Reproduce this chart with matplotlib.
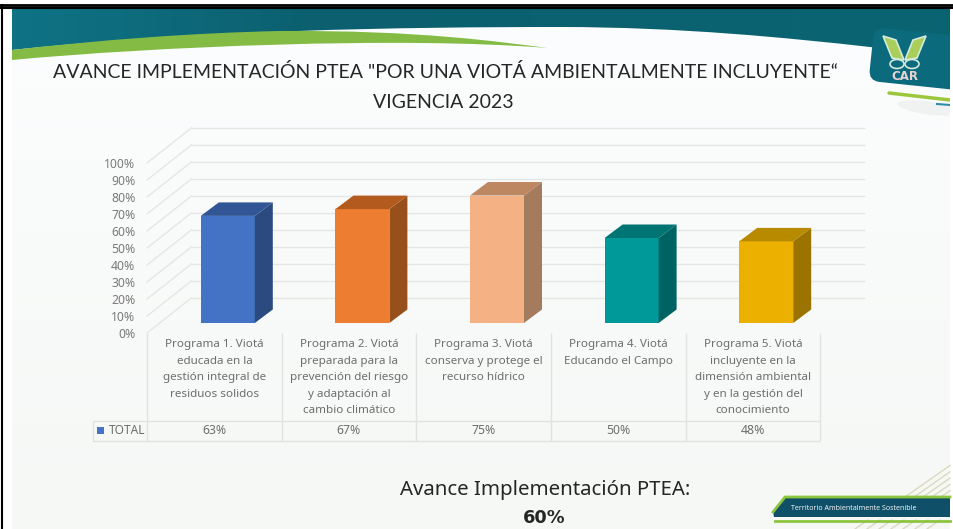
import numpy as np
import matplotlib
matplotlib.use("Agg")
import matplotlib.pyplot as plt
from matplotlib.patches import Polygon, Rectangle, FancyBboxPatch, Ellipse, PathPatch
from matplotlib.path import Path
from matplotlib.transforms import offset_copy, Affine2D

# data
programas = ["Programa 1. Viotá\neducada en la\ngestión integral de\nresiduos solidos",
             "Programa 2. Viotá\npreparada para la\nprevención del riesgo\ny adaptación al\ncambio climático",
             "Programa 3. Viotá\nconserva y protege el\nrecurso hídrico",
             "Programa 4. Viotá\nEducando el Campo",
             "Programa 5. Viotá\nincluyente en la\ndimensión ambiental\ny en la gestión del\nconocimiento"]
valores = [63, 67, 75, 50, 48]
ticks = [0, 10, 20, 30, 40, 50, 60, 70, 80, 90, 100]
col_front = ["#4472C4", "#ED7D31", "#F4B183", "#009999", "#ECB100"]
col_side = ["#2A4A80", "#97501C", "#A57B5E", "#006363", "#9A7300"]
col_top = ["#315595", "#B35B1E", "#BD8762", "#007373", "#B88A00"]

W, H = 954, 529
fig = plt.figure(figsize=(W / 100, H / 100), dpi=100, facecolor="white")

# 1. slide background, pixel coords
bg = fig.add_axes([0, 0, 1, 1])
bg.axis("off")
bg.imshow(np.linspace(0, 1, 100)[:, None], extent=(12, 950, 529, 9), aspect="auto",
          cmap=matplotlib.colors.LinearSegmentedColormap.from_list("s", ["#FCFDFE", "#F5F8F5"]), zorder=1)
bg.set_xlim(0, W)
bg.set_ylim(H, 0)

# black frame
bg.plot([0, W], [5, 5], color="black", lw=2, zorder=9)
bg.plot([0, W], [8, 8], color="black", lw=1.5, zorder=9)
bg.plot([2.5, 2.5], [5, H], color="black", lw=1.5, zorder=9)

# header band
C4 = Path.CURVE4
band_path = Path([(12, 50), (200, 30), (400, 27), (560, 27), (680, 27), (790, 38), (870, 47),
                  (900, 50), (930, 52), (950, 53), (950, 9), (12, 9), (12, 50)],
                 [Path.MOVETO, C4, C4, C4, C4, C4, C4, C4, C4, C4, Path.LINETO, Path.LINETO, Path.CLOSEPOLY])
band = PathPatch(band_path, fc="none", ec="none", transform=bg.transData, zorder=2)
bg.add_patch(band)
grad = np.linspace(0, 1, 200)[None, :]
cm_band = matplotlib.colors.LinearSegmentedColormap.from_list("b", ["#0F7385", "#0B5F6E", "#0B6270", "#0A6470"])
im = bg.imshow(grad, extent=(12, 950, 60, 9), aspect="auto", cmap=cm_band, zorder=2)
im.set_clip_path(band)
bg.set_xlim(0, W)
bg.set_ylim(H, 0)

# green swoosh
green_path = Path([(12, 50), (100, 40), (190, 33), (280, 31), (420, 30), (500, 42), (548, 48),
                   (400, 36), (150, 47), (12, 60), (12, 50)],
                  [Path.MOVETO, C4, C4, C4, C4, C4, C4, C4, C4, C4, Path.CLOSEPOLY])
bg.add_patch(PathPatch(green_path, fc="#84BB45", ec="none", zorder=3))

# logo
bg.add_patch(Ellipse((928, 108), 62, 13, angle=8, fc="#F0F1F1", ec="none", zorder=2))
logo_tr = Affine2D().rotate_deg_around(910, 60, 6) + bg.transData
bg.add_patch(FancyBboxPatch((871, 31), 110, 54, boxstyle="round,pad=0,rounding_size=11", fc="#0B6A7C",
                            ec="none", zorder=4, transform=logo_tr))
bg.add_patch(Rectangle((950, 9), 4, 120, fc="white", ec="none", zorder=5))
bg.add_patch(Polygon([(883, 36), (896, 40), (904, 60), (892, 58)], fc="#A9CF5A", ec="#D5E9DD", lw=1.2, zorder=6))
bg.add_patch(Polygon([(926, 36), (913, 40), (905, 60), (917, 58)], fc="#A9CF5A", ec="#D5E9DD", lw=1.2, zorder=6))
bg.add_patch(Ellipse((897, 64), 14, 9, fc="#0B6A7C", ec="#D5E9DD", lw=1.2, zorder=6))
bg.add_patch(Ellipse((912, 64), 14, 9, fc="#0B6A7C", ec="#D5E9DD", lw=1.2, zorder=6))
bg.text(904.5, 76, "CAR", color="#E9D3D5", fontsize=8.5, fontweight="bold", ha="center", va="center",
        family="DejaVu Sans", zorder=7)
bg.plot([889, 950], [93, 100], color="#9CC63C", lw=2.5, solid_capstyle="round", zorder=4)
bg.plot([937, 950], [104, 105], color="#2C8FA5", lw=1.5, zorder=4)

# bottom right badge and stripes
for i in range(6):
    x_ini = 905 + i * 9
    bg.plot([x_ini, 950], [497, 497 - (950 - x_ini) * 0.7], color="#DDD9C0", lw=1, zorder=2)
for i in range(7):
    bg.plot([855 + i * 12, 868 + i * 12], [529, 520], color="#DDD9C0", lw=1, zorder=2)
bg.add_patch(Polygon([(773, 512), (785, 497), (950, 497), (950, 517), (774, 517)], fc="#0F4F68", ec="none", zorder=3))
bg.plot([773, 785, 950], [512, 497, 497], color="#8CC63F", lw=2, zorder=4)
bg.plot([775, 950], [520.5, 520.5], color="#8CC63F", lw=2, zorder=4)
bg.text(791, 508, "Territorio Ambientalmente Sostenible", color="white", fontsize=5.1, va="center",
        family="Open Sans", zorder=5)

# titles
bg.text(445, 72, "AVANCE IMPLEMENTACIÓN PTEA \"POR UNA VIOTÁ AMBIENTALMENTE INCLUYENTE“",
        fontsize=14, family="Lato", ha="center", va="center", color="#262626", zorder=6)
bg.text(443, 102, "VIGENCIA 2023", fontsize=14, family="Lato", ha="center", va="center", color="#262626", zorder=6)
bg.text(545, 490, "Avance Implementación PTEA:", fontsize=14.7, family="Noto Sans", ha="center", va="center",
        color="#262626", zorder=6)
bg.text(544, 518, "60%", fontsize=12.8, fontweight="bold", family="DejaVu Sans", ha="center", va="center",
        color="#262626", zorder=6)

# 2. chart, y=0 is the front of the floor
left, right, base, top = 147, 820, 333, 163
ax = fig.add_axes([left / W, 1 - base / H, (right - left) / W, (base - top) / H])
ax.patch.set_alpha(0)
ax.set_xlim(-0.5, 4.5)
ax.set_ylim(0, 100)
for s in ax.spines.values():
    s.set_visible(False)
ax.set_xticks([])
ax.set_yticks(ticks)
ax.set_yticklabels([str(t) + "%" for t in ticks], fontsize=8.8, color="#7A7A7A", family="Noto Sans")
ax.tick_params(axis="y", length=0, pad=8.3)

grid_c = "#E4E7E6"
back = offset_copy(ax.transData, fig=fig, x=45, y=35.5, units="dots")
ax.hlines(ticks, -0.5, 4.5, color=grid_c, lw=1, transform=back, clip_on=False, zorder=1)
for t in ticks:
    # diagonal wall lines, offset in points at 100 dpi
    ax.annotate("", xy=(-0.5, t), xytext=(45 * 0.72, 35.5 * 0.72), xycoords="data", textcoords="offset points",
                arrowprops=dict(arrowstyle="-", color=grid_c, lw=1, shrinkA=0, shrinkB=0), annotation_clip=False)

# bars shifted back into the floor depth
bar_tr = offset_copy(ax.transData, fig=fig, x=13.5, y=10, units="dots")
ancho = 54 / 134.6
dx = 18 / 134.6
dy = 13.5 / 1.7
for i, v in enumerate(valores):
    x0 = i - ancho / 2
    x1 = i + ancho / 2
    ax.bar(i, v, width=ancho, color=col_front[i], transform=bar_tr, zorder=3, clip_on=False)
    ax.add_patch(Polygon([(x1, 0), (x1 + dx, dy), (x1 + dx, v + dy), (x1, v)], fc=col_side[i], ec="none",
                         transform=bar_tr, zorder=3, clip_on=False))
    ax.add_patch(Polygon([(x0, v), (x1, v), (x1 + dx, v + dy), (x0 + dx, v + dy)], fc=col_top[i], ec="none",
                         transform=bar_tr, zorder=3, clip_on=False))

# 3. data table under the chart
line_c = "#DFE3E2"
cols = [147, 282, 416, 551, 686, 820]
bg.vlines(cols, 333, 441, color=line_c, lw=1, zorder=4)
bg.vlines(93, 421, 441, color=line_c, lw=1, zorder=4)
bg.hlines([421, 441], 93, 820, color=line_c, lw=1, zorder=4)
bg.add_patch(Rectangle((97.5, 426.5), 7, 7, fc="#4472C4", ec="none", zorder=4))
bg.text(109, 430, "TOTAL", fontsize=8.6, color="#6E6E6E", family="Noto Sans", va="center", zorder=4)
for i, p in enumerate(programas):
    cx = (cols[i] + cols[i + 1]) / 2
    bg.text(cx, 339.5, p, fontsize=8.4, color="#6E6E6E", family="Noto Sans", ha="center", va="top",
            linespacing=1.68, zorder=4)
    bg.text(cx, 430.5, str(valores[i]) + "%", fontsize=8.8, color="#6E6E6E", family="Noto Sans",
            ha="center", va="center", zorder=4)

fig.savefig("out.png", dpi=100)
